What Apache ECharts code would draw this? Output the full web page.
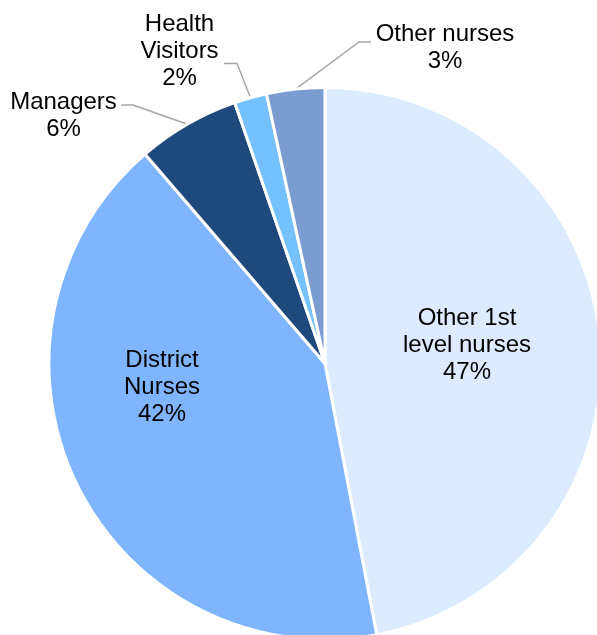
<!DOCTYPE html>
<html>
<head>
<meta charset="utf-8">
<script src="https://cdn.jsdelivr.net/npm/echarts@6/dist/echarts.min.js"></script>
<style>
html, body { margin: 0; padding: 0; background: #fff; }
#main { width: 597px; height: 635px; }
</style>
</head>
<body>
<div id="main"></div>
<script>
// slices, clockwise from 12 o'clock
const categories = ['Other 1st level nurses', 'District Nurses', 'Managers', 'Health Visitors', 'Other nurses'];
const labelNames = ['Other 1st\nlevel nurses', 'District\nNurses', 'Managers', 'Health\nVisitors', 'Other nurses'];
const shares = [47.0, 41.7, 6.0, 1.9, 3.4];

const colors = ['#DCEBFF', '#7FB5FF', '#1F497D', '#75C1FE', '#7B9CD1'];
const outside = [false, false, true, true, true];
// label centres and leader elbows (px)
const labelAt = [[467, 345], [162, 387], [63.5, 116], [179.5, 51], [445, 48]];
const leader = [null, null, [[133, 105], [121, 105]], [[237, 63.5], [224, 63.5]], [[359, 42], [371, 42]]];

var myChart = echarts.init(document.getElementById('main'));

const data = categories.map(function (name, i) {
  return {
    name: name,
    value: shares[i],
    itemStyle: { color: colors[i] },
    label: { position: outside[i] ? 'outside' : 'inside' },
    labelLine: { show: outside[i] }
  };
});

var option = {
  animation: false,
  series: [
    {
      type: 'pie',
      center: [325, 363.5],
      radius: 276,
      startAngle: 90,
      clockwise: true,
      avoidLabelOverlap: false,
      itemStyle: { borderColor: '#fff', borderWidth: 3 },
      label: {
        color: '#000',
        fontFamily: '"Liberation Sans", Arial, sans-serif',
        fontSize: 24,
        lineHeight: 27,
        width: 200,
        formatter: function (p) {
          return labelNames[p.dataIndex] + '\n' + Math.round(p.value) + '%';
        }
      },
      labelLine: {
        smooth: false,
        lineStyle: { color: '#A6A6A6', width: 1.5 }
      },
      labelLayout: function (params) {
        const i = params.dataIndex;
        const out = { x: labelAt[i][0], y: labelAt[i][1], align: 'center', verticalAlign: 'middle' };
        if (leader[i] && params.labelLinePoints) {
          out.labelLinePoints = [params.labelLinePoints[0]].concat(leader[i]);
        }
        return out;
      },
      data: data
    }
  ]
};
option && myChart.setOption(option);
</script>
</body>
</html>
